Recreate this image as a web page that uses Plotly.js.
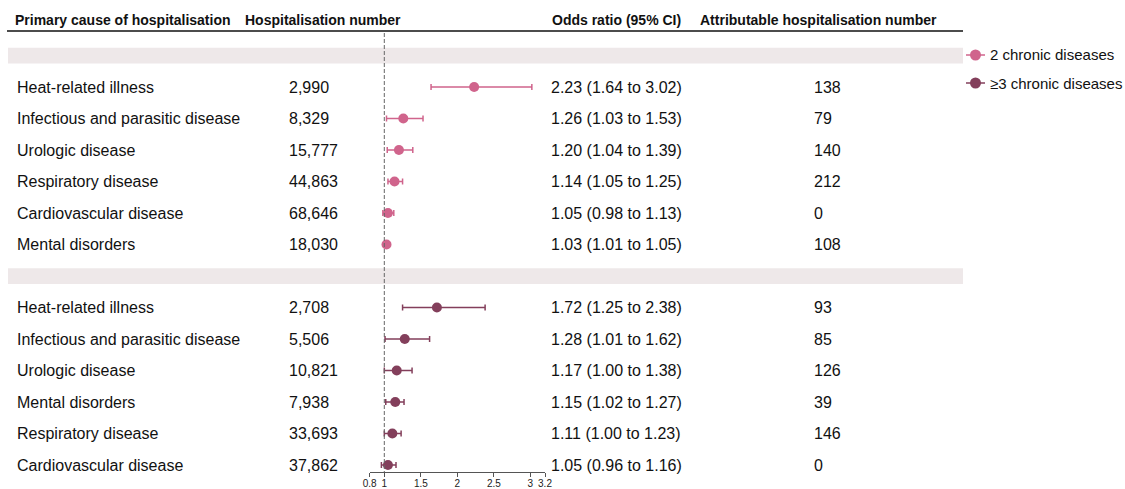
<!DOCTYPE html>
<html>
<head>
<meta charset="utf-8">
<script src="https://cdn.plot.ly/plotly-3.0.1.min.js"></script>
<style>html,body{margin:0;padding:0;background:#fff;overflow:hidden}#chart{width:1125px;height:489px}</style>
</head>
<body>
<div id="chart"></div>
<script>
// ---- data ----
var groupNames = ["2 chronic diseases", "\u22653 chronic diseases"];
var causes2 = ["Heat-related illness", "Infectious and parasitic disease", "Urologic disease", "Respiratory disease", "Cardiovascular disease", "Mental disorders"];
var hosp2 = ["2,990", "8,329", "15,777", "44,863", "68,646", "18,030"];
var or2 = [2.23, 1.26, 1.20, 1.14, 1.05, 1.03];
var lo2 = [1.64, 1.03, 1.04, 1.05, 0.98, 1.01];
var hi2 = [3.02, 1.53, 1.39, 1.25, 1.13, 1.05];
var attr2 = ["138", "79", "140", "212", "0", "108"];

var causes3 = ["Heat-related illness", "Infectious and parasitic disease", "Urologic disease", "Mental disorders", "Respiratory disease", "Cardiovascular disease"];
var hosp3 = ["2,708", "5,506", "10,821", "7,938", "33,693", "37,862"];
var or3 = [1.72, 1.28, 1.17, 1.15, 1.11, 1.05];
var lo3 = [1.25, 1.01, 1.00, 1.02, 1.00, 0.96];
var hi3 = [2.38, 1.62, 1.38, 1.27, 1.23, 1.16];
var attr3 = ["93", "85", "126", "39", "146", "0"];

var headers = ["Primary cause of hospitalisation", "Hospitalisation number", "Odds ratio (95% CI)", "Attributable hospitalisation number"];
var tickVals = [0.8, 1, 1.5, 2, 2.5, 3, 3.2];
var tickText = ["0.8", "1", "1.5", "2", "2.5", "3", "3.2"];

// ---- layout helpers ----
var W = 1125, H = 489;
var colors = ["#D0648C", "#833F5B"];
function px(x){ return x / W; }
function py(y){ return 1 - y / H; }

var rows2 = causes2.map(function(_, i){ return i + 1; });
var rows3 = causes3.map(function(_, i){ return i + 8; });

function fmtCI(o, l, h){ return o.toFixed(2) + " (" + l.toFixed(2) + " to " + h.toFixed(2) + ")"; }

function forestTrace(or, lo, hi, rows, color, name){
  return {
    type: "scatter", mode: "markers", x: or, y: rows, showlegend: false, name: name,
    marker: {color: color, size: 10},
    error_x: {type: "data", symmetric: false,
      array: hi.map(function(h, i){ return h - or[i]; }),
      arrayminus: lo.map(function(l, i){ return or[i] - l; }),
      color: color, thickness: 1.5, width: 3},
    hoverinfo: "skip"
  };
}

var traces = [
  forestTrace(or2, lo2, hi2, rows2, colors[0], groupNames[0]),
  forestTrace(or3, lo3, hi3, rows3, colors[1], groupNames[1])
];

var FAM = "Liberation Sans, Arial, sans-serif";
var txtFont = {family: FAM, size: 16, color: "#111"};
var hdrFont = {family: FAM, size: 14, color: "#111"};
var ann = [];
function addText(x, yRow, text, font){
  ann.push({xref: "paper", yref: "y", x: px(x), y: yRow, text: text, showarrow: false,
    xanchor: "left", yanchor: "middle", font: font});
}
var hdrX = [13, 243, 550, 698];
headers.forEach(function(h, i){
  ann.push({xref: "paper", yref: "paper", x: px(hdrX[i]), y: py(20), text: "<b>" + h + "</b>", showarrow: false,
    xanchor: "left", yanchor: "middle", font: hdrFont});
});
function addGroup(causes, hosp, or, lo, hi, attr, rows){
  causes.forEach(function(c, i){
    addText(15, rows[i], c, txtFont);
    addText(287, rows[i], hosp[i], txtFont);
    addText(549, rows[i], fmtCI(or[i], lo[i], hi[i]), txtFont);
    addText(812, rows[i], attr[i], txtFont);
  });
}
addGroup(causes2, hosp2, or2, lo2, hi2, attr2, rows2);
addGroup(causes3, hosp3, or3, lo3, hi3, attr3, rows3);

var shapes = [
  {type: "rect", xref: "paper", yref: "y", x0: px(8), x1: px(963), y0: -0.25, y1: 0.25, fillcolor: "#EEE8E9", line: {width: 0}, layer: "below"},
  {type: "rect", xref: "paper", yref: "y", x0: px(8), x1: px(963), y0: 6.75, y1: 7.25, fillcolor: "#EEE8E9", line: {width: 0}, layer: "below"},
  {type: "line", xref: "paper", yref: "paper", x0: px(7), x1: px(963), y0: py(31), y1: py(31), line: {color: "#111", width: 1.5}},
  {type: "line", xref: "x", yref: "paper", x0: 1, x1: 1, y0: py(33), y1: py(472), line: {color: "#666", width: 1, dash: "4px,2px"}}
];

// manual legend
var legY = [55, 83];
groupNames.forEach(function(n, i){
  shapes.push({type: "line", xref: "paper", yref: "paper", x0: px(966), x1: px(985), y0: py(legY[i]), y1: py(legY[i]),
    line: {color: colors[i], width: 1.5}});
  shapes.push({type: "circle", xref: "paper", yref: "paper", xsizemode: "pixel", ysizemode: "pixel",
    xanchor: px(975.5), yanchor: py(legY[i]), x0: -5.5, x1: 5.5, y0: -5.5, y1: 5.5,
    fillcolor: colors[i], line: {width: 0}});
  ann.push({xref: "paper", yref: "paper", x: px(988), y: py(legY[i]), text: n, showarrow: false,
    xanchor: "left", yanchor: "middle", font: {family: FAM, size: 15, color: "#111"}});
});

// y: row index i -> pixel 55.5 + 31.5*i ; y domain ends at pixel 472
var yTop = -55.5 / 31.5, yBot = (472 - 55.5) / 31.5;
var layout = {
  width: W, height: H, autosize: false,
  margin: {l: 0, r: 0, t: 0, b: 0, pad: 0},
  paper_bgcolor: "#fff", plot_bgcolor: "rgba(0,0,0,0)",
  font: {family: FAM, color: "#111"},
  showlegend: false,
  xaxis: {domain: [px(369.7), px(545)], range: [0.8, 3.2], tickvals: tickVals, ticktext: tickText,
    showgrid: false, zeroline: false, showline: true, linecolor: "#555", linewidth: 1,
    ticks: "outside", ticklen: 4, tickcolor: "#555", tickfont: {size: 10, color: "#222"},
    ticklabelstandoff: -2, automargin: false, fixedrange: true},
  yaxis: {domain: [(H - 472) / H, 1], range: [yBot, yTop], visible: false, showgrid: false, zeroline: false, fixedrange: true},
  annotations: ann,
  shapes: shapes
};

Plotly.newPlot("chart", traces, layout, {displayModeBar: false, staticPlot: true});
</script>
</body>
</html>
